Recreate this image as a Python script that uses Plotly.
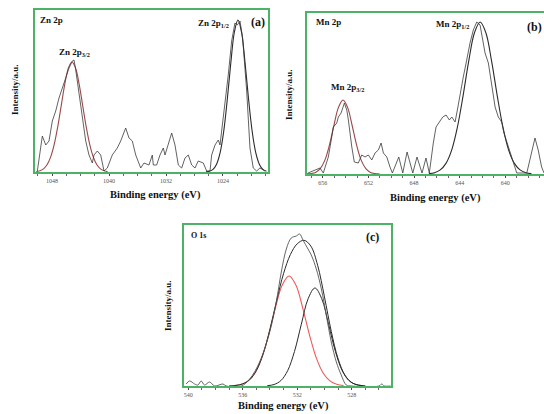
import plotly.graph_objects as go

# ---------------- Panel (a): Zn 2p ----------------
zn_exp_ev = [1050.06, 1049.59, 1049.36, 1048.88, 1048.42, 1047.96, 1047.48, 1047.02, 1046.55, 1046.08,
             1045.61, 1045.15, 1044.91, 1044.67, 1044.21, 1043.75, 1043.27, 1042.81, 1042.34, 1042.11,
             1041.64, 1041.17, 1040.70, 1040.24, 1039.54, 1038.84, 1038.36, 1037.66, 1037.19, 1036.73,
             1036.25, 1035.55, 1035.09, 1034.39, 1033.92, 1033.78, 1033.31, 1032.84, 1032.38, 1032.14,
             1031.68, 1031.20, 1030.74, 1030.27, 1029.80, 1029.33, 1028.87, 1028.39, 1027.93, 1027.47,
             1026.76, 1026.29, 1025.82, 1025.59, 1025.12, 1024.66, 1024.42, 1023.96, 1023.26, 1022.78,
             1022.32, 1021.99, 1021.61, 1021.24, 1020.67, 1020.21, 1019.75, 1019.27, 1018.81, 1018.11]
zn_exp_int = [1, 24, 36, 27, 31, 51, 61, 74, 84, 94,
              104, 111, 112, 102, 77, 54, 31, 17, 9, 17,
              21, 17, 1, 4, 17, 24, 31, 44, 34, 31,
              17, 4, 9, 7, 17, 7, 7, 17, 24, 17,
              27, 39, 27, 7, 4, 14, 17, 7, 4, 11,
              9, 1, 1, 17, 27, 32, 27, 54, 97, 131,
              149, 147, 151, 134, 81, 24, 4, 1, 4, 1]

zn_fit32_ev = [1050.2, 1049.7, 1049.2, 1048.7, 1048.2, 1047.7, 1047.2, 1046.7, 1046.2, 1045.7, 1045.2,
               1044.7, 1044.2, 1043.7, 1043.2, 1042.7, 1042.2, 1041.7, 1041.2, 1040.7, 1040.2]
zn_fit32_int = [0.4, 1.2, 3.1, 7.2, 14.9, 27.4, 45.2, 66.7, 88.1, 104.1, 110,
                104.1, 88.1, 66.7, 45.2, 27.4, 14.9, 7.2, 3.1, 1.2, 0.4]

zn_fit12_ev = [1026.4, 1025.9, 1025.4, 1024.9, 1024.4, 1023.9, 1023.4, 1022.9, 1022.4, 1021.9,
               1021.4, 1020.9, 1020.4, 1019.9, 1019.4, 1018.9, 1018.4, 1017.9]
zn_fit12_int = [0.2, 0.8, 2.7, 7.8, 19.3, 40.5, 72.3, 109.2, 140, 152,
                140, 109.2, 72.3, 40.5, 19.3, 7.8, 2.7, 0.8]

# ---------------- Panel (b): Mn 2p ----------------
mn_exp_ev = [657.30, 656.68, 656.25, 655.96, 655.52, 655.22, 655.08, 654.78, 654.64, 654.40,
             654.25, 654.11, 653.90, 653.76, 653.46, 653.24, 652.89, 652.59, 652.30, 652.01,
             651.71, 651.42, 651.13, 650.89, 650.69, 650.39, 650.11, 649.90, 649.34, 648.99,
             648.61, 648.11, 647.74, 647.30, 646.95, 646.66, 646.31, 646.07, 645.78, 645.48,
             645.19, 644.90, 644.69, 644.40, 644.20, 643.96, 643.68, 643.38, 643.09, 642.80,
             642.50, 642.21, 641.97, 641.77, 641.48, 641.18, 640.89, 640.61, 640.31, 640.11,
             639.82, 639.52, 639.23, 638.99, 638.11, 637.67, 637.39, 637.11, 636.81, 636.60]
mn_exp_int = [1, 4, 6, 1, 17, 37, 47, 51, 57, 61,
              67, 71, 64, 54, 27, 12, 11, 19, 17, 19,
              14, 21, 24, 31, 21, 17, 7, 1, 17, 1,
              22, 1, 17, 1, 16, 1, 31, 47, 52, 57,
              59, 54, 57, 52, 64, 81, 97, 114, 131, 144,
              152, 149, 134, 121, 111, 87, 67, 57, 52, 41,
              31, 21, 11, 1, 1, 24, 36, 24, 7, 1]

mn_fit32_ev = [657.43, 657.03, 656.63, 656.23, 655.83, 655.43, 655.03, 654.63, 654.23,
               653.83, 653.43, 653.03, 652.63, 652.23, 651.83, 651.43, 651.03]
mn_fit32_int = [0.1, 0.4, 1.6, 5.3, 13.6, 28.6, 48.5, 66.6, 74,
                66.6, 48.5, 28.6, 13.6, 5.3, 1.6, 0.4, 0.1]

mn_fit12_ev = [646.7, 646.2, 645.7, 645.2, 644.7, 644.2, 643.7, 643.2, 642.7, 642.2,
               641.7, 641.2, 640.7, 640.2, 639.7, 639.2, 638.7, 638.2, 637.7]
mn_fit12_int = [0.4, 1.3, 4.1, 10.6, 23.9, 46.6, 78.1, 113.1, 141.2, 152,
                141.2, 113.1, 78.1, 46.6, 23.9, 10.6, 4.1, 1.3, 0.4]

# ---------------- Panel (c): O 1s ----------------
o_exp_ev = [540.15, 539.90, 539.53, 539.29, 539.05, 538.80, 538.43, 538.06, 537.45, 537.21,
            536.11, 535.49, 534.76, 534.02, 533.54, 533.17, 532.80, 532.44, 532.07, 531.82,
            531.58, 531.21, 530.97, 530.60, 530.23, 529.87, 529.50, 529.13, 528.77, 528.40,
            528.00, 526.00, 525.80, 525.60, 525.15]
o_exp_int = [2, 5, 2, 1, 5, 1, 4, 0, 2, 0,
             0, 7, 24, 54, 84, 114, 137, 148, 150, 152,
             146, 137, 131, 117, 97, 71, 44, 24, 11, 1,
             0, 0, 2, 0, 0]

o_red_ev = [536.6, 536.1, 535.6, 535.1, 534.6, 534.1, 533.6, 533.1, 532.6,
            532.1, 531.6, 531.1, 530.6, 530.1, 529.6, 529.1, 528.6]
o_red_int = [0.5, 1.7, 5.1, 13.0, 28.1, 51.0, 78.2, 101.0, 110,
             101.0, 78.2, 51.0, 28.1, 13.0, 5.1, 1.7, 0.5]

o_blk_ev = [534.2, 533.7, 533.2, 532.7, 532.2, 531.7, 531.2, 530.7,
            530.2, 529.7, 529.2, 528.7, 528.2, 527.7, 527.2]
o_blk_int = [0.3, 1.5, 5.4, 15.4, 34.6, 61.7, 87.3, 98,
             87.3, 61.7, 34.6, 15.4, 5.4, 1.5, 0.3]

o_env_ev = [537.0, 536.5, 536.0, 535.5, 535.0, 534.5, 534.0, 533.5, 533.0, 532.5, 532.0,
            531.5, 531.0, 530.5, 530.0, 529.5, 529.0, 528.5, 528.0, 527.5, 527.0]
o_env_int = [0.1, 0.6, 2.1, 6.2, 15.4, 32.2, 56.9, 86.0, 112.6, 131.5, 142.2,
             145.7, 139.9, 120.6, 89.0, 54.5, 27.1, 10.9, 3.5, 0.9, 0.2]

W, H = 544, 414
GREEN = "#4cb366"
EXP = "#3a3a3a"
FIT = "#2a2a2a"
SERIF = "Liberation Serif"

fig = go.Figure()

def add(x, y, ax, color, width, shape="linear"):
    fig.add_trace(go.Scatter(x=x, y=y, mode="lines", xaxis="x" + ax, yaxis="y" + ax,
                             line=dict(color=color, width=width, shape=shape),
                             showlegend=False, hoverinfo="skip"))

add(zn_fit32_ev, zn_fit32_int, "", "#9b4848", 1.1, "spline")
add(zn_fit12_ev, zn_fit12_int, "", FIT, 1.1, "spline")
add(zn_exp_ev, zn_exp_int, "", EXP, 0.8)

add(mn_fit32_ev, mn_fit32_int, "2", "#9b4848", 1.1, "spline")
add(mn_fit12_ev, mn_fit12_int, "2", FIT, 1.1, "spline")
add(mn_exp_ev, mn_exp_int, "2", EXP, 0.8)

add(o_red_ev, o_red_int, "3", "#f05a5a", 1.1, "spline")
add(o_blk_ev, o_blk_int, "3", FIT, 1.0, "spline")
add(o_env_ev, o_env_int, "3", FIT, 1.0, "spline")
add(o_exp_ev, o_exp_int, "3", "#555555", 0.9, "spline")

def xax(dom, rng, dtick, minor, anchor, mirror=True):
    return dict(domain=dom, range=rng, autorange=False, anchor=anchor,
                showline=True, linecolor=GREEN, linewidth=2, mirror=mirror,
                showgrid=False, zeroline=False, ticks="outside", ticklen=2, tickwidth=1,
                tickcolor="#444", dtick=dtick, tick0=0,
                minor=dict(dtick=minor, ticks="outside", ticklen=1.5, tickcolor="#666"),
                tickfont=dict(family=SERIF, size=6, color="#555"))

def yax(dom, rng, anchor, mirror=True):
    return dict(domain=dom, range=rng, autorange=False, anchor=anchor,
                showline=True, linecolor=GREEN, linewidth=2, mirror=mirror,
                showgrid=False, zeroline=False, showticklabels=False, ticks="")

fig.update_layout(
    width=W, height=H, autosize=False,
    margin=dict(l=0, r=0, t=0, b=0),
    paper_bgcolor="white", plot_bgcolor="white",
    xaxis=xax([35 / W, 268 / W], [1050.39, 1017.68], 8, 2, "y"),
    yaxis=yax([1 - 172 / H, 1 - 10 / H], [0, 162], "x"),
    xaxis2=xax([307 / W, 1.0], [657.39, 636.6], 4, 1, "y2"),
    yaxis2=yax([1 - 174 / H, 1 - 13 / H], [0, 161], "x2", mirror=False),
    xaxis3=xax([184 / W, 390.7 / W], [540.31, 525.14], 4, 1, "y3"),
    yaxis3=yax([1 - 386 / H, 1 - 225 / H], [0, 161], "x3"),
)

def note(text, px, py, size=9, xanchor="left", angle=0):
    fig.add_annotation(text=text, x=px / W, y=1 - py / H, xref="paper", yref="paper",
                       xanchor=xanchor, yanchor="middle", showarrow=False, textangle=angle,
                       font=dict(family=SERIF, size=size, color="#111"))

# panel (a)
note("<b>Zn 2p</b>", 38, 20, 9)
note("<b>Zn 2p<sub>3/2</sub></b>", 57, 52, 9)
note("<b>Zn 2p<sub>1/2</sub></b>", 196, 23, 9)
note("<b>(a)</b>", 249, 22, 12)
note("<b>Intensity/a.u.</b>", 15, 90, 9, "center", -90)
note("<b>Binding energy (eV)</b>", 155, 195, 10.5, "center")

# panel (b)
note("<b>Mn 2p</b>", 314, 22, 9)
note("<b>Mn 2p<sub>3/2</sub></b>", 329, 87, 9)
note("<b>Mn 2p<sub>1/2</sub></b>", 434, 24, 9)
note("<b>(b)</b>", 525, 27, 12)
note("<b>Intensity/a.u.</b>", 289, 95, 9, "center", -90)
note("<b>Binding energy (eV)</b>", 435, 198, 10.5, "center")

# panel (c)
note("<b>O 1s</b>", 189, 235, 8)
note("<b>(c)</b>", 364, 237, 12)
note("<b>Intensity/a.u.</b>", 168, 306, 9, "center", -90)
note("<b>Binding energy (eV)</b>", 283, 406, 10.5, "center")

fig.write_html("out.html",
               config={"displayModeBar": False},
               post_script="document.body.style.margin='0';document.body.style.overflow='hidden';")
